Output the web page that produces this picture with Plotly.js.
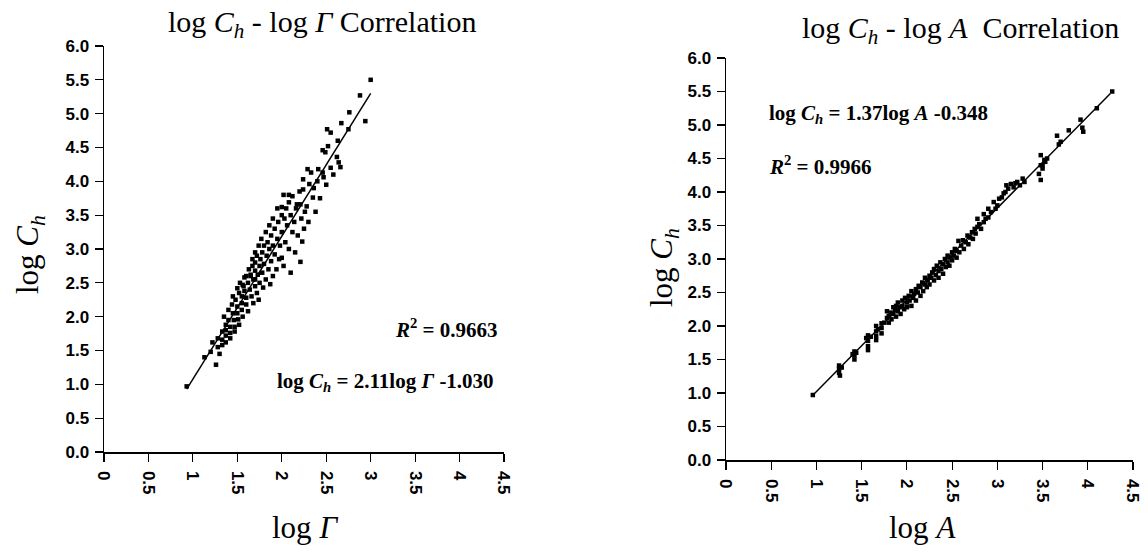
<!DOCTYPE html>
<html>
<head>
<meta charset="utf-8">
<script src="https://cdn.plot.ly/plotly-3.0.1.min.js"></script>
<style>html,body{margin:0;padding:0;background:#fff;}#chart{width:1148px;height:556px;}</style>
</head>
<body>
<div id="chart"></div>
<script>
// Left panel: log Gamma vs log Ch
const gammaX = [0.93,1.13,1.26,1.20,1.22,1.28,1.28,1.30,1.33,1.33,1.33,1.37,1.37,1.37,1.37,1.40,1.42,1.42,1.42,1.45,1.46,1.47,1.47,1.50,1.50,1.51,1.52,1.35,1.40,1.44,1.55,1.55,1.55,1.56,1.58,1.60,1.60,1.62,1.48,1.52,1.57,1.62,1.64,1.66,1.68,1.70,1.70,1.72,1.74,
1.60,1.63,1.65,1.67,1.68,1.70,1.70,1.72,1.73,1.75,1.75,1.76,1.78,1.78,1.79,1.80,1.80,1.82,1.83,1.84,1.85,1.86,1.87,1.88,1.88,1.90,1.90,1.92,1.92,1.94,1.95,1.96,1.97,1.98,2.00,2.00,2.00,2.02,2.03,2.04,2.05,2.06,2.08,2.08,2.10,2.10,2.12,2.12,2.14,2.15,2.16,2.17,2.18,2.20,2.21,2.21,2.23,2.22,2.24,2.24,2.25,2.26,2.28,2.29,2.30,2.31,2.33,2.35,2.36,2.38,2.40,2.41,2.43,2.46,2.46,2.47,2.49,2.50,2.51,2.52,2.55,2.55,2.58,2.62,2.63,2.64,2.66,2.67,2.75,2.76,2.88,2.94,3.00,
1.45,1.50,1.53,1.56,1.58,1.65,1.67,1.70,1.74,1.77,1.82,1.86,1.90,1.95,2.00,2.02,2.08];
const gammaCh = [0.97,1.40,1.29,1.48,1.62,1.55,1.68,1.45,1.78,1.66,1.58,1.88,1.80,1.72,1.62,1.95,1.85,1.76,1.68,2.05,1.95,1.85,1.78,2.15,2.05,1.96,1.88,2.00,2.10,2.18,2.30,2.20,2.10,2.00,2.38,2.28,2.18,2.08,2.25,2.35,2.45,2.50,2.40,2.30,2.20,2.55,2.45,2.35,2.25,
2.60,2.70,2.62,2.75,2.55,2.80,2.68,2.90,2.62,2.75,2.50,2.85,2.95,2.65,2.43,3.05,2.78,2.55,2.90,3.10,2.70,3.00,2.48,3.20,2.82,2.60,3.05,3.30,2.92,2.70,3.15,3.40,2.85,3.05,3.50,2.87,3.25,2.75,3.45,3.10,3.60,3.35,3.00,3.69,2.65,3.50,3.78,3.25,3.40,2.95,3.60,3.66,3.20,3.85,3.66,2.81,3.11,3.45,4.03,3.88,3.30,3.55,3.63,4.18,3.40,3.96,4.13,3.76,3.90,3.55,4.00,4.18,3.75,4.13,4.46,4.06,4.43,3.95,4.77,4.52,4.72,4.20,4.10,4.36,4.60,4.28,4.21,4.86,4.77,5.02,5.27,4.89,5.50,
2.30,2.42,2.50,2.47,2.58,2.60,2.85,2.95,3.05,3.15,3.25,3.35,3.45,3.60,3.62,3.80,3.80];
const gammaFitX = [0.93, 3.00];
const gammaFitY = [0.93, 5.30];

// Right panel: log A vs log Ch
const areaX = [0.96,1.25,1.25,1.25,1.26,1.28,1.42,1.42,1.42,1.44,1.40,1.57,1.57,1.57,1.57,1.55,1.60,1.66,1.66,1.66,1.66,1.68,1.72,1.72,1.72,1.75,1.78,1.78,1.80,1.80,1.82,1.83,1.85,1.85,1.87,1.88,1.88,1.90,1.90,1.92,1.93,1.95,1.95,1.97,1.98,2.00,2.00,2.02,2.03,2.05,2.05,2.07,2.08,2.10,2.10,2.12,2.13,2.15,2.15,2.17,2.18,2.20,2.20,2.22,2.23,2.25,2.25,2.27,2.28,2.30,2.30,2.32,2.33,2.35,2.35,2.37,2.38,2.40,2.40,2.42,2.43,2.45,2.45,2.47,2.48,2.50,2.50,2.52,2.53,2.55,2.55,2.57,2.58,2.60,2.62,2.63,2.65,2.67,2.68,2.70,2.72,2.73,2.75,2.76,2.78,2.78,2.80,2.82,2.85,2.85,2.87,2.90,2.90,2.93,2.96,2.98,3.00,3.02,3.05,3.07,3.09,3.10,3.12,3.15,3.18,3.20,3.22,3.25,3.28,3.30,3.46,3.48,3.48,3.50,3.50,3.52,3.53,3.55,3.48,3.66,3.68,3.70,3.79,3.92,3.94,3.95,4.10,4.27];
const areaCh = [0.97,1.41,1.36,1.30,1.26,1.38,1.62,1.56,1.50,1.60,1.58,1.86,1.78,1.70,1.64,1.82,1.84,2.00,1.92,1.85,1.79,1.95,2.04,1.97,1.89,2.05,2.22,2.12,2.05,2.15,2.20,2.10,2.28,2.18,2.24,2.30,2.14,2.22,2.35,2.28,2.18,2.38,2.30,2.25,2.42,2.35,2.28,2.45,2.38,2.30,2.52,2.42,2.48,2.55,2.38,2.50,2.60,2.45,2.58,2.65,2.52,2.62,2.72,2.58,2.68,2.75,2.62,2.72,2.80,2.68,2.85,2.76,2.90,2.82,2.72,2.95,2.85,2.78,2.92,3.00,2.88,2.95,3.05,2.90,3.02,3.10,2.98,3.05,3.15,3.02,3.12,3.27,3.10,3.20,3.28,3.15,3.25,3.35,3.22,3.32,3.40,3.30,3.45,3.38,3.60,3.48,3.52,3.45,3.67,3.55,3.60,3.75,3.62,3.70,3.85,3.75,3.80,3.90,3.92,3.98,4.00,4.10,4.05,4.12,4.07,4.13,4.15,4.10,4.20,4.15,4.27,4.55,4.40,4.40,4.35,4.48,4.45,4.50,4.18,4.84,4.71,4.75,4.92,5.08,4.96,4.90,5.25,5.50];
const areaFitX = [0.96, 4.25];
const areaFitY = [0.967, 5.47];

const xTicks = [0,0.5,1,1.5,2,2.5,3,3.5,4,4.5];
const xTickText = ['0','0.5','1','1.5','2','2.5','3','3.5','4','4.5'];
const yTicks = [0,0.5,1,1.5,2,2.5,3,3.5,4,4.5,5,5.5,6];
const yTickText = ['0.0','0.5','1.0','1.5','2.0','2.5','3.0','3.5','4.0','4.5','5.0','5.5','6.0'];

const serif = 'Liberation Serif, Times New Roman, serif';

function xax(domain, anchor){
  return {domain:domain, anchor:anchor, range:[0,4.5], tickmode:'array', tickvals:xTicks, ticktext:xTickText, tickangle:90,
    showline:true, linecolor:'#000', linewidth:1.5, ticks:'outside', ticklen:8, tickwidth:1.2, tickcolor:'#000',
    ticklabelstandoff:6, showgrid:false, zeroline:false, fixedrange:true,
    tickfont:{family:'Liberation Sans, Arial, sans-serif', size:17, color:'#000', weight:700}};
}
function yax(domain, anchor){
  return {domain:domain, anchor:anchor, range:[0,6], tickmode:'array', tickvals:yTicks, ticktext:yTickText,
    showline:true, linecolor:'#000', linewidth:1.5, ticks:'outside', ticklen:8, tickwidth:1.2, tickcolor:'#000',
    ticklabelstandoff:2, showgrid:false, zeroline:false, fixedrange:true,
    tickfont:{family:'Liberation Sans, Arial, sans-serif', size:17, color:'#000', weight:700}};
}

const mk = {symbol:'square', size:4.5, color:'#000'};
const data = [
  {x:gammaX, y:gammaCh, type:'scatter', mode:'markers', marker:mk, xaxis:'x', yaxis:'y', hoverinfo:'none'},
  {x:gammaFitX, y:gammaFitY, type:'scatter', mode:'lines', line:{color:'#000', width:1.5}, xaxis:'x', yaxis:'y', hoverinfo:'none'},
  {x:areaX, y:areaCh, type:'scatter', mode:'markers', marker:mk, xaxis:'x2', yaxis:'y2', hoverinfo:'none'},
  {x:areaFitX, y:areaFitY, type:'scatter', mode:'lines', line:{color:'#000', width:1.5}, xaxis:'x2', yaxis:'y2', hoverinfo:'none'}
];

function ann(text, x, y, size, opts){
  return Object.assign({xref:'paper', yref:'paper', x:x/1148, y:1-y/556, text:text, showarrow:false,
    font:{family:serif, size:size, color:'#000'}, xanchor:'center', yanchor:'middle'}, opts||{});
}
const eqFont = {family:serif, size:21, color:'#000', weight:'bold'};

const layout = {
  width:1148, height:556, margin:{l:0,r:0,t:0,b:0},
  paper_bgcolor:'#fff', plot_bgcolor:'#fff', showlegend:false,
  font:{family:'Liberation Sans, Arial, sans-serif', size:17, color:'#000'},
  xaxis: xax([104/1148, 504/1148], 'y'),
  yaxis: yax([1-452/556, 1-46/556], 'x'),
  xaxis2: xax([726/1148, 1133/1148], 'y2'),
  yaxis2: yax([1-460/556, 1-58/556], 'x2'),
  annotations: [
    ann('log <i>C<sub>h</sub></i> - log <i>Γ</i> Correlation', 322, 24, 30),
    ann('log <i>C<sub>h</sub></i> - log <i>A</i>  Correlation', 960, 30, 30),
    ann('log <i>Γ</i>', 305, 527, 31),
    ann('log <i>A</i>', 922, 527, 31),
    ann('log <i>C<sub>h</sub></i>', 30, 255, 31, {textangle:-90}),
    ann('log <i>C<sub>h</sub></i>', 664, 268, 31, {textangle:-90}),
    ann('<i>R</i><sup>2</sup> = 0.9663', 500, 328, 21, {xanchor:'right', font:eqFont}),
    ann('log <i>C<sub>h</sub></i> = 2.11log <i>Γ</i> -1.030', 496, 382, 21, {xanchor:'right', font:eqFont}),
    ann('log <i>C<sub>h</sub></i> = 1.37log <i>A</i> -0.348', 767, 114, 21, {xanchor:'left', font:eqFont}),
    ann('<i>R</i><sup>2</sup> = 0.9966', 767, 166, 21, {xanchor:'left', font:eqFont})
  ]
};

Plotly.newPlot('chart', data, layout, {staticPlot:true, displayModeBar:false});
</script>
</body>
</html>
